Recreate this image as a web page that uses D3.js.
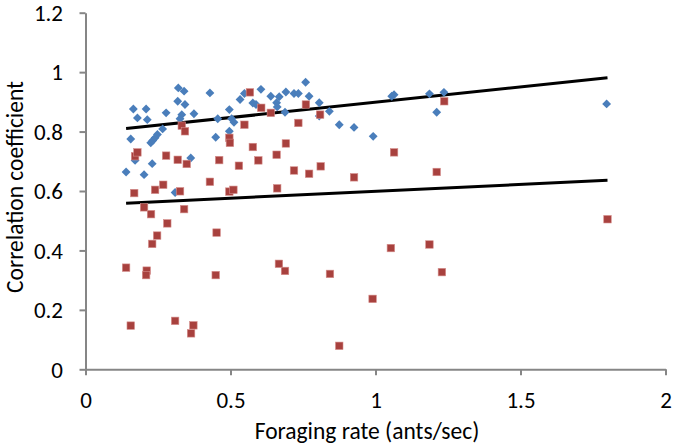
<!DOCTYPE html>
<html>
<head>
<meta charset="utf-8">
<script src="https://cdn.jsdelivr.net/npm/d3@7"></script>
<style>
  html, body { margin: 0; padding: 0; background: #fff; }
  svg { display: block; }
  text { font-family: Carlito, Calibri, Lato, "Open Sans", sans-serif; }
</style>
</head>
<body>
<svg id="chart" width="676" height="447"></svg>
<script>
// ---- data ----
const blueX = [0.140,0.156,0.165,0.179,0.171,0.202,0.209,0.213,0.225,0.232,0.240,0.248,0.230,0.266,0.278,0.309,0.320,0.340,0.318,0.343,0.332,0.326,0.363,0.374,0.429,0.449,0.456,0.496,0.504,0.512,0.496,0.533,0.548,0.577,0.588,0.605,0.639,0.659,0.661,0.668,0.691,0.719,0.734,0.759,0.771,0.806,0.688,0.806,0.841,0.875,0.926,0.992,1.056,1.064,1.186,1.211,1.236,1.797];
const blueY = [0.664,0.775,0.876,0.846,0.703,0.655,0.876,0.840,0.762,0.770,0.779,0.790,0.692,0.809,0.863,0.595,0.947,0.936,0.902,0.891,0.857,0.843,0.711,0.860,0.930,0.781,0.843,0.874,0.843,0.831,0.801,0.908,0.928,0.896,0.891,0.942,0.919,0.897,0.883,0.917,0.933,0.928,0.928,0.966,0.919,0.897,0.865,0.852,0.868,0.823,0.814,0.784,0.919,0.924,0.927,0.865,0.932,0.893];
const redX = [0.171,0.179,0.168,0.202,0.240,0.268,0.278,0.318,0.326,0.332,0.343,0.349,0.340,0.429,0.461,0.496,0.498,0.496,0.510,0.529,0.548,0.567,0.577,0.596,0.606,0.639,0.659,0.661,0.760,0.809,0.734,0.691,0.719,0.771,0.811,0.926,1.064,1.211,1.237,0.226,0.282,0.247,0.230,0.452,0.140,0.211,0.209,0.449,0.156,0.309,0.372,0.364,0.667,0.688,0.843,0.875,0.990,1.053,1.186,1.229,1.800];
const redY = [0.717,0.730,0.593,0.545,0.604,0.621,0.719,0.705,0.599,0.820,0.801,0.691,0.539,0.631,0.704,0.779,0.762,0.598,0.604,0.685,0.823,0.932,0.748,0.703,0.880,0.863,0.722,0.609,0.891,0.857,0.829,0.760,0.669,0.658,0.683,0.646,0.730,0.664,0.902,0.522,0.491,0.450,0.422,0.460,0.342,0.332,0.317,0.317,0.147,0.163,0.148,0.121,0.355,0.331,0.321,0.079,0.237,0.408,0.420,0.327,0.505];
const trendUpperX = [0.14, 1.8];
const trendUpperY = [0.810, 0.981];
const trendLowerX = [0.14, 1.8];
const trendLowerY = [0.559, 0.636];
const xTicks = [0, 0.5, 1, 1.5, 2];
const yTicks = [0, 0.2, 0.4, 0.6, 0.8, 1, 1.2];
const xTitle = "Foraging rate (ants/sec)";
const yTitle = "Correlation coefficient";

// ---- drawing ----
const svg = d3.select("#chart");
const x = d3.scaleLinear().domain([0, 2]).range([85.5, 665.5]);
const y = d3.scaleLinear().domain([0, 1.2]).range([369.3, 12.7]);
const axisColor = "#868686";
const tickFont = 23;
const titleFont = 23.5;

// axes
const gx = svg.append("g").attr("transform", `translate(0,${y(0)})`)
  .call(d3.axisBottom(x).tickValues(xTicks).tickFormat(d3.format("~g")).tickSize(6).tickSizeOuter(0));
const gy = svg.append("g").attr("transform", `translate(${x(0)},0)`)
  .call(d3.axisLeft(y).tickValues(yTicks).tickFormat(d3.format("~g")).tickSize(6).tickSizeOuter(0));
[gx, gy].forEach(g => {
  g.select(".domain").attr("stroke", axisColor).attr("stroke-width", 2);
  g.selectAll(".tick line").attr("stroke", axisColor).attr("stroke-width", 2);
  g.selectAll(".tick text").attr("fill", "#000").style("font-size", tickFont + "px")
    .style("font-family", "Carlito, Calibri, Lato, 'Open Sans', sans-serif");
});
gx.selectAll(".tick text").attr("y", 39).attr("dy", 0);
gy.selectAll(".tick text").attr("x", -22.5).attr("dy", "0.34em");

// trend lines
const line = d3.line().x(d => x(d[0])).y(d => y(d[1]));
[[trendUpperX, trendUpperY], [trendLowerX, trendLowerY]].forEach(([tx, ty]) => {
  svg.append("path").datum(tx.map((v, i) => [v, ty[i]]))
    .attr("d", line).attr("fill", "none").attr("stroke", "#000").attr("stroke-width", 3);
});

// blue diamonds
const diamond = d3.symbol().type(d3.symbolDiamond2).size(50);
svg.append("g").selectAll("path").data(blueX.map((v, i) => [v, blueY[i]])).join("path")
  .attr("d", diamond)
  .attr("transform", d => `translate(${x(d[0])},${y(d[1])})`)
  .attr("fill", "#4A7EBB");

// red squares
const sq = 7.5;
svg.append("g").selectAll("rect").data(redX.map((v, i) => [v, redY[i]])).join("rect")
  .attr("x", d => x(d[0]) - sq / 2).attr("y", d => y(d[1]) - sq / 2)
  .attr("width", sq).attr("height", sq)
  .attr("fill", "#A8413E").attr("stroke", "#D58E8B").attr("stroke-width", 0.6);

// titles
svg.append("text").attr("x", 367).attr("y", 439).attr("text-anchor", "middle")
  .style("font-size", titleFont + "px").attr("fill", "#000").text(xTitle);
svg.append("text").attr("transform", "translate(23,187) rotate(-90)").attr("text-anchor", "middle")
  .style("font-size", titleFont + "px").attr("fill", "#000").text(yTitle);
</script>
</body>
</html>
